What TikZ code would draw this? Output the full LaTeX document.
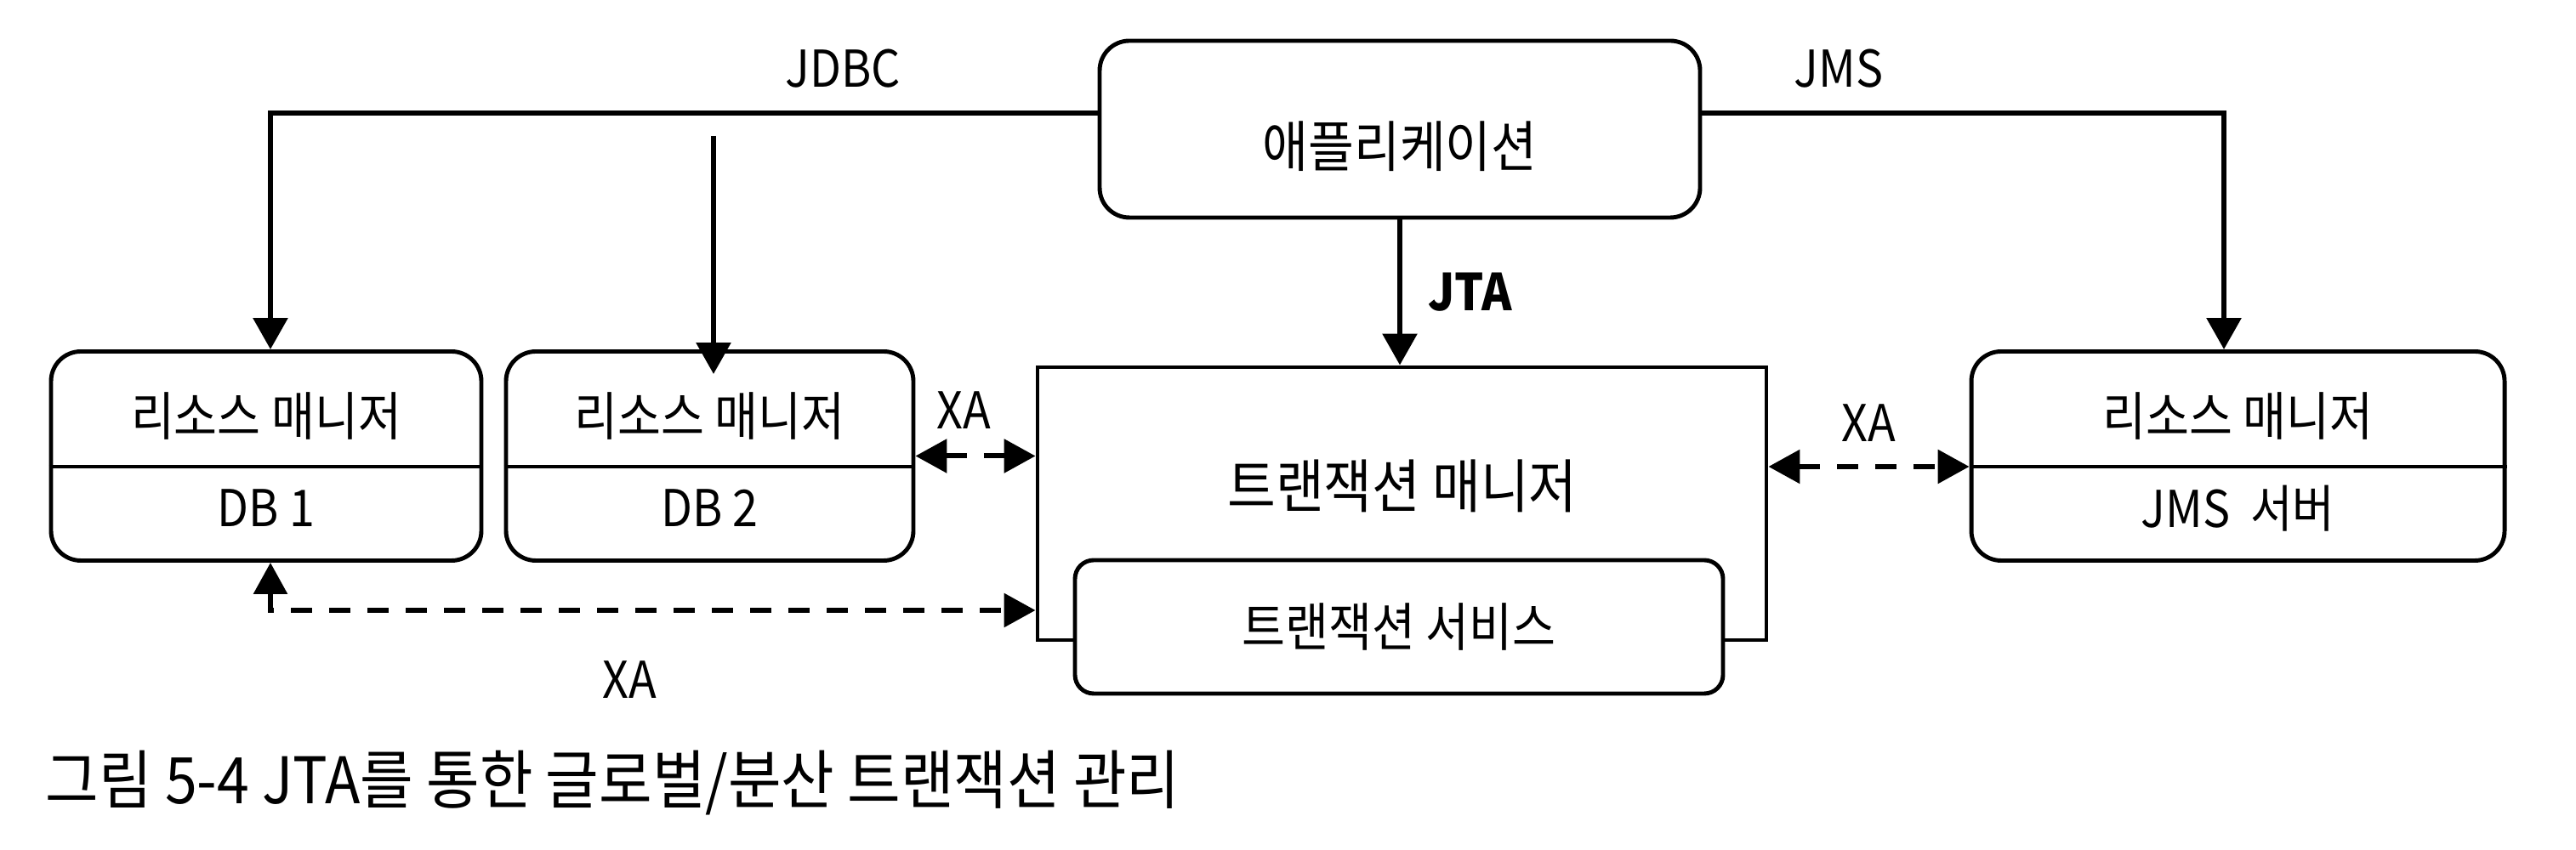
\documentclass[tikz,border=0pt]{standalone}
\usepackage{fontspec}
\setmainfont{Noto Sans CJK KR}[FakeStretch=0.9]
\usetikzlibrary{positioning, arrows.meta, calc}

\begin{document}
\begin{tikzpicture}[
	box/.style={draw, line width=1.4pt, rounded corners=3.5mm},
	conn/.style={line width=1.7pt, -{Triangle[length=3.7mm, width=4mm]}},
	xa/.style={line width=1.7pt, dash pattern=on 2.5mm off 2mm, {Triangle[length=3.7mm, width=3.9mm]}-{Triangle[length=3.7mm, width=3.9mm]}},
	kor/.style={font=\fontsize{17.5}{21}\selectfont},
	lat/.style={inner sep=0pt, font=\fontsize{17}{20}\selectfont},
	latb/.style={inner sep=0pt, font=\fontsize{17}{20}\selectfont\bfseries}
	]
	\useasboundingbox (0,0) rectangle (30.29,10);
	\node[box, minimum width=7.06cm, minimum height=2.08cm] (App) at (16.46,8.48) {};
	\node[kor, font=\fontsize{18.5}{22}\selectfont] (AppText) at (16.46,8.28) {애플리케이션};
	\node[draw, line width=1.4pt, minimum width=8.57cm, minimum height=3.21cm] (TM) at (16.485,4.075) {};
	\node[kor, font=\fontsize{19.5}{23}\selectfont] (TMText) at (16.49,4.28) {트랜잭션 매니저};
	\node[box, kor, rounded corners=2.2mm, fill=white, minimum width=7.62cm, minimum height=1.57cm] (TS) at (16.45,2.625) {트랜잭션 서비스};
	\node[box, minimum width=5.06cm, minimum height=2.46cm] (RM1) at (3.13,4.635) {};
	\node[box, minimum width=4.79cm, minimum height=2.46cm] (RM2) at (8.345,4.635) {};
	\node[box, minimum width=6.27cm, minimum height=2.46cm] (RMJms) at (26.315,4.635) {};
	\foreach \bx/\sub in {RM1/DB 1, RM2/DB 2, RMJms/JMS\ \ 서버}{
		\draw[line width=1.4pt] ([yshift=-1.25mm]\bx.west) coordinate (\bx L) -- ([yshift=-1.25mm]\bx.east);
		\node[kor] (\bx Top) at ([yshift=4.65mm]\bx.center) {리소스 매니저};
		\node[lat] (\bx Bot) at ([yshift=-6.15mm]\bx.center) {\sub};
	}
	\draw[conn] ([yshift=1.9mm]App.west) -| node[lat, pos=0.154, above=2.7mm] (JDBC) {JDBC} ([xshift=0.5mm]RM1.north);
	\coordinate (JdbcTop) at (8.39,8.40);
	\draw[conn, shorten >=-2.9mm] (JdbcTop) -- (JdbcTop |- RM2.north);
	\draw[conn] ([yshift=1.9mm]App.east) -| node[lat, pos=0.131, above=2.7mm] (JMS) {JMS} ([xshift=-1.65mm]RMJms.north);
	\draw[conn] (App.south) -- node[latb, midway, right=3mm] (JTA) {JTA} (App.south |- TM.north);
	\draw[xa] (RM2.east) -- node[lat, pos=0.4, above=2.9mm] (XA1) {XA} (RM2.east -| TM.west);
	\draw[xa] (TM.east |- RMJmsL) -- node[lat, midway, above=2.6mm] (XA2) {XA} (RMJmsL);
	\draw[xa] ([xshift=0.5mm]RM1.south) |- node[lat, pos=0.735, below=5.7mm] (XA3) {XA} ([yshift=-12.55mm]TM.west);
	\node[anchor=west, inner sep=0pt, font=\fontsize{21.5}{25}\selectfont] (Caption) at (0.53,0.79) {그림 5-4 JTA를 통한 글로벌/분산 트랜잭션 관리};
\end{tikzpicture}
\end{document}
